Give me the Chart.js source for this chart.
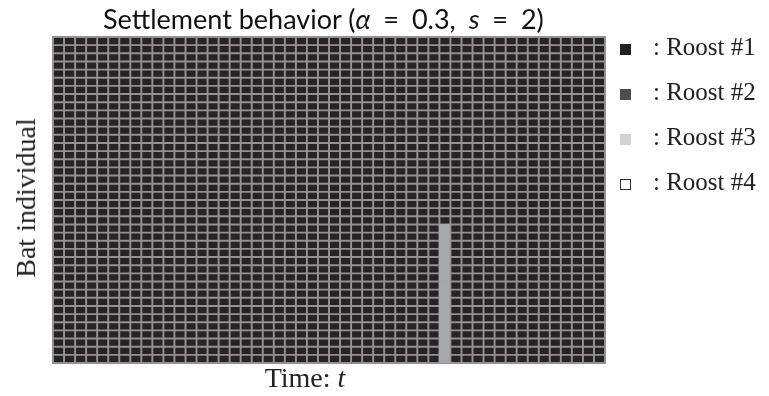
<!DOCTYPE html>
<html>
<head>
<meta charset="utf-8">
<script src="https://cdn.jsdelivr.net/npm/chart.js@4.4.1/dist/chart.umd.min.js"></script>
<style>
  html, body { margin: 0; padding: 0; background: #ffffff; }
  #wrap { position: relative; width: 769px; height: 396px; overflow: hidden; }
  #chart { position: absolute; left: 0; top: 0; }
  .title {
    position: absolute; left: 103px; top: 3px; white-space: nowrap; line-height: 1.2;
    font-family: Lato, 'Open Sans', sans-serif; font-size: 27px; color: #111;
  }
  .title .math { word-spacing: 6px; }
  .serif { font-family: 'Liberation Serif', 'DejaVu Serif', serif; color: #222; white-space: nowrap; }
  .ylabel {
    position: absolute; left: 26px; top: 198px; font-size: 28px;
    transform: translate(-50%, -50%) rotate(-90deg);
  }
  .xlabel { position: absolute; left: 305px; top: 378px; font-size: 28px; transform: translate(-50%, -50%); }
  .legend { position: absolute; left: 620px; top: 24px; }
  .legend div { height: 45px; line-height: 45px; font-size: 25px; }
  .legend span.box {
    display: inline-block; width: 11px; height: 11px; margin-right: 22px;
    vertical-align: middle; box-sizing: border-box;
  }
</style>
</head>
<body>
<div id="wrap">
  <canvas id="chart" width="769" height="396"></canvas>
  <div class="title">Settlement behavior (<span class="math"><i>α</i> = 0.3, <i>s</i> = 2)</span></div>
  <div class="serif ylabel">Bat individual</div>
  <div class="serif xlabel">Time: <i>t</i></div>
  <div class="serif legend" id="legend"></div>
</div>
<script>
// Time steps (columns)
const timeSteps = [
  1, 2, 3, 4, 5, 6, 7, 8, 9, 10, 11, 12, 13, 14, 15, 16, 17, 18, 19, 20, 21, 22, 23, 24, 25,
  26, 27, 28, 29, 30, 31, 32, 33, 34, 35, 36, 37, 38, 39, 40, 41, 42, 43, 44, 45, 46, 47, 48, 49, 50
];

// Roost chosen by each bat individual at each time step, bat #1 (bottom) to bat #40 (top)
const roostByBat = [
  '1111111111 1111111111 1111111111 1111131111 1111111111', // 1
  '1111111111 1111111111 1111111111 1111131111 1111111111',
  '1111111111 1111111111 1111111111 1111131111 1111111111',
  '1111111111 1111111111 1111111111 1111131111 1111111111',
  '1111111111 1111111111 1111111111 1111131111 1111111111', // 5
  '1111111111 1111111111 1111111111 1111131111 1111111111',
  '1111111111 1111111111 1111111111 1111131111 1111111111',
  '1111111111 1111111111 1111111111 1111131111 1111111111',
  '1111111111 1111111111 1111111111 1111131111 1111111111',
  '1111111111 1111111111 1111111111 1111131111 1111111111', // 10
  '1111111111 1111111111 1111111111 1111131111 1111111111',
  '1111111111 1111111111 1111111111 1111131111 1111111111',
  '1111111111 1111111111 1111111111 1111131111 1111111111',
  '1111111111 1111111111 1111111111 1111131111 1111111111',
  '1111111111 1111111111 1111111111 1111131111 1111111111', // 15
  '1111111111 1111111111 1111111111 1111131111 1111111111',
  '1111111111 1111111111 1111111111 1111131111 1111111111',
  '1111111111 1111111111 1111111111 1111111111 1111111111',
  '1111111111 1111111111 1111111111 1111111111 1111111111',
  '1111111111 1111111111 1111111111 1111111111 1111111111', // 20
  '1111111111 1111111111 1111111111 1111111111 1111111111',
  '1111111111 1111111111 1111111111 1111111111 1111111111',
  '1111111111 1111111111 1111111111 1111111111 1111111111',
  '1111111111 1111111111 1111111111 1111111111 1111111111',
  '1111111111 1111111111 1111111111 1111111111 1111111111', // 25
  '1111111111 1111111111 1111111111 1111111111 1111111111',
  '1111111111 1111111111 1111111111 1111111111 1111111111',
  '1111111111 1111111111 1111111111 1111111111 1111111111',
  '1111111111 1111111111 1111111111 1111111111 1111111111',
  '1111111111 1111111111 1111111111 1111111111 1111111111', // 30
  '1111111111 1111111111 1111111111 1111111111 1111111111',
  '1111111111 1111111111 1111111111 1111111111 1111111111',
  '1111111111 1111111111 1111111111 1111111111 1111111111',
  '1111111111 1111111111 1111111111 1111111111 1111111111',
  '1111111111 1111111111 1111111111 1111111111 1111111111', // 35
  '1111111111 1111111111 1111111111 1111111111 1111111111',
  '1111111111 1111111111 1111111111 1111111111 1111111111',
  '1111111111 1111111111 1111111111 1111111111 1111111111',
  '1111111111 1111111111 1111111111 1111111111 1111111111',
  '1111111111 1111111111 1111111111 1111111111 1111111111'  // 40
];

// Legend entries
const roostLabels = ['Roost #1', 'Roost #2', 'Roost #3', 'Roost #4'];

// Cell colours in the grid, and the swatch colours in the legend
const cellColors = { 1: '#272324', 2: '#4d4b4c', 3: '#a6a8aa', 4: '#ffffff' };
const swatchColors = ['#231f20', '#4e4c4e', '#d1d3d4', '#ffffff'];
const lineColor = '#929292';

const roostMatrix = roostByBat.map(row => row.replace(/ /g, '').split('').map(Number));

// Fills the plot area so the cell borders blend into one grey mesh
const gridBackground = {
  id: 'gridBackground',
  beforeDatasetsDraw(chart) {
    const { ctx, chartArea } = chart;
    ctx.save();
    ctx.fillStyle = lineColor;
    ctx.fillRect(chartArea.left - 1, chartArea.top - 1, chartArea.width + 2, chartArea.height + 2);
    ctx.restore();
  }
};

const datasets = roostMatrix.map((row, b) => ({
  label: 'Bat ' + (b + 1),
  data: row.map(() => 1),
  backgroundColor: ctx => cellColors[row[ctx.dataIndex]],
  borderColor: ctx => row[ctx.dataIndex] === 3 ? cellColors[3] : lineColor,
  borderWidth: 1.3,
  borderSkipped: false,
  barPercentage: 1,
  categoryPercentage: 1,
  stack: 'bats'
}));

new Chart(document.getElementById('chart'), {
  type: 'bar',
  data: { labels: timeSteps, datasets },
  options: {
    responsive: false,
    animation: false,
    layout: { padding: { left: 53, right: 164, top: 37, bottom: 33 } },
    plugins: { legend: { display: false }, tooltip: { enabled: false } },
    scales: {
      x: { stacked: true, display: false },
      y: { stacked: true, display: false, min: 0, max: roostByBat.length }
    }
  },
  plugins: [gridBackground]
});

// HTML legend
const legendEl = document.getElementById('legend');
roostLabels.forEach((name, i) => {
  const item = document.createElement('div');
  const box = document.createElement('span');
  box.className = 'box';
  box.style.background = swatchColors[i];
  box.style.border = i === 3 ? '1.5px solid #333' : 'none';
  item.appendChild(box);
  item.appendChild(document.createTextNode(': ' + name));
  legendEl.appendChild(item);
});
</script>
</body>
</html>
